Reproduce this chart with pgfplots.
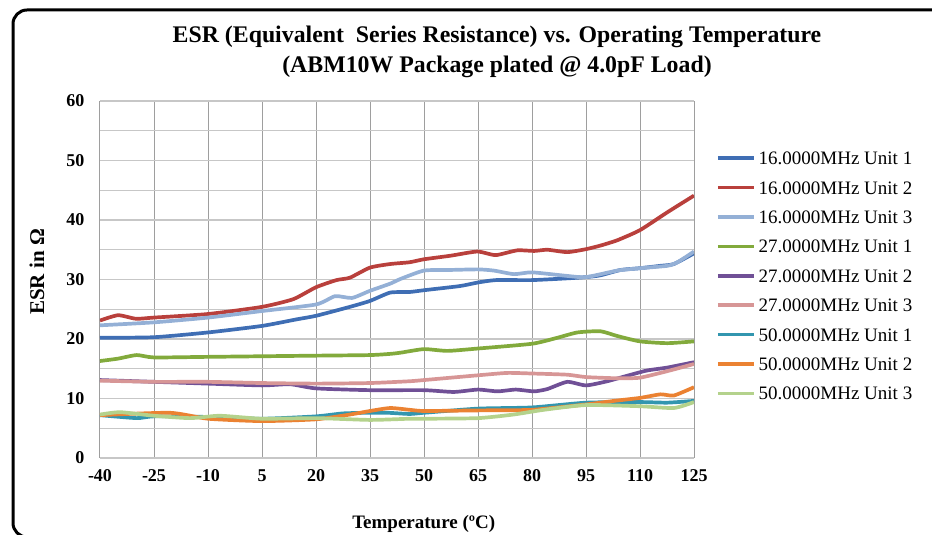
\documentclass[border=0pt]{standalone}
\usepackage{fontspec}
\setmainfont{Liberation Serif}
\usepackage{graphicx}
\usepackage{pgfplots}
\pgfplotsset{compat=1.18}
\usepackage{pgfplotstable}

\definecolor{cA}{RGB}{63,110,180}
\definecolor{cB}{RGB}{185,64,60}
\definecolor{cC}{RGB}{148,176,214}
\definecolor{cD}{RGB}{130,170,60}
\definecolor{cE}{RGB}{112,80,150}
\definecolor{cF}{RGB}{215,150,150}
\definecolor{cG}{RGB}{50,150,175}
\definecolor{cH}{RGB}{235,130,50}
\definecolor{cI}{RGB}{180,210,140}

\pgfplotstableread{
x y
-40 20.2
-25 20.3
-10 21.1
5 22.2
14.6 23.3
20 23.9
29.4 25.4
35 26.4
40.6 27.8
46 27.9
50 28.2
60 28.9
65 29.5
70 29.9
80 29.9
90 30.2
95 30.4
99 30.7
104.6 31.6
110 31.9
115.7 32.3
119.4 32.6
125 34.4
}\tA
\pgfplotstableread{
x y
-40 23.1
-35 24.0
-30 23.4
-25 23.6
-10 24.2
5 25.4
13.7 26.7
20 28.7
25.7 29.9
29.4 30.3
35 32.0
40.6 32.6
46 32.9
50 33.4
57.4 34.0
64.8 34.7
69.9 34.1
75.9 34.9
80.6 34.8
84.3 35.0
89.8 34.6
95 35.1
99 35.7
103.7 36.6
110 38.3
117.6 41.3
125 44.1
}\tB
\pgfplotstableread{
x y
-40 22.3
-25 22.8
-10 23.6
5 24.7
20 25.8
25.3 27.2
30 26.9
35 28.1
40.6 29.3
43.5 30.1
50 31.5
57 31.6
65 31.7
69.4 31.5
75 30.9
80 31.2
89.8 30.6
95 30.4
103.7 31.5
110 31.9
117.6 32.3
120.4 32.9
125 34.7
}\tC
\pgfplotstableread{
x y
-40 16.3
-35 16.7
-29.8 17.3
-25 16.9
-10 17.0
5 17.1
20 17.2
35 17.3
40.6 17.5
43.5 17.7
50 18.3
56.5 18.0
65 18.4
80 19.2
87 20.2
92.6 21.1
99 21.3
103.7 20.5
110 19.6
117.6 19.3
125 19.6
}\tD
\pgfplotstableread{
x y
-40 13.1
-25 12.8
-10 12.5
5 12.2
12.8 12.4
20 11.7
35 11.4
50 11.4
58.3 11.1
65 11.5
70.4 11.2
75.5 11.5
80.6 11.2
84.3 11.6
89.8 12.8
95 12.2
100.9 12.9
106.3 13.8
111.9 14.7
117.6 15.2
125 16.1
}\tE
\pgfplotstableread{
x y
-40 13.0
-25 12.8
-10 12.8
5 12.6
20 12.5
35 12.6
46 12.9
50 13.1
65 13.9
73.1 14.3
80 14.2
89.8 14.0
95 13.6
103.7 13.4
110 13.5
117.6 14.6
125 15.8
}\tF
\pgfplotstableread{
x y
-40 7.2
-29.8 6.7
-25 7.0
-10 6.9
5 6.6
20 7.0
27.6 7.5
35 7.6
40 7.6
46 7.4
50 7.6
65 8.3
80 8.5
95 9.3
110 9.4
117.6 9.3
125 9.6
}\tG
\pgfplotstableread{
x y
-40 7.2
-20.6 7.6
-10 6.6
5 6.2
20 6.5
29.4 7.3
35 7.9
40.6 8.4
46 8.1
50 7.9
65 8.0
80 8.1
95 9.0
102.8 9.6
110 10.1
115.7 10.7
119.4 10.5
125 11.9
}\tH
\pgfplotstableread{
x y
-40 7.3
-34.4 7.7
-25 7.1
-15 6.7
-6.7 7.1
5 6.6
20 6.7
35 6.4
46 6.6
50 6.6
65 6.7
74.8 7.3
83.3 8.1
95 8.9
110 8.7
119.4 8.4
125 9.4
}\tI

\begin{document}
\begin{tikzpicture}
\useasboundingbox (0,0) rectangle (932pt,535pt);
\clip (0,0) rectangle (932pt,535pt);
\draw[line width=3pt, rounded corners=14pt] (13pt,-2pt) rectangle (960pt,525pt);
\node[font=\fontsize{23.8}{30}\selectfont\bfseries, align=center] at (497pt,483pt)
  {ESR (Equivalent\ \ Series Resistance) vs. Operating Temperature\\(ABM10W Package plated @ 4.0pF Load)};
\begin{axis}[
  at={(100pt,77pt)}, anchor=south west,
  width=594pt, height=357pt, scale only axis,
  xmin=-40, xmax=125, ymin=0, ymax=60,
  xtick={-40,-25,...,125}, ytick={0,10,...,60},
  minor ytick={5,15,...,55},
  grid=both,
  x grid style={draw=black!38, line width=1pt},
  y grid style={draw=black!22, line width=1.3pt},
  minor grid style={draw=black!16, line width=1.1pt},
  axis line style={draw=none},
  major tick length=0pt, minor tick length=0pt,
  /pgf/number format/assume math mode=true,
  ticklabel style={font=\fontsize{18}{18}\selectfont\bfseries},
  xticklabel style={yshift=-8pt},
  yticklabel style={xshift=-12pt},
  xlabel={Temperature (ºC)},
  ylabel={ESR in Ω},
  xlabel style={font=\fontsize{19}{19}\selectfont\bfseries, at={(axis description cs:0.545,0)}, anchor=base, yshift=-71pt},
  ylabel style={font=\fontsize{21}{21}\selectfont\bfseries, at={(axis description cs:0,0.521)}, anchor=center, yshift=63pt},
  legend cell align=left,
  legend style={draw=none, fill=none, at={(1.037,0.8585)}, anchor=north west,
    font=\fontsize{19}{19}\selectfont, row sep=13.4pt, column sep=3pt, inner sep=0pt,
    nodes={inner sep=0pt, text height=13pt, text depth=3pt}},
  legend image code/.code={\draw[#1, line width=3.5pt] (0pt,1.5pt) -- (36pt,1.5pt);},
  every axis plot/.append style={line width=3.7pt, line join=round, smooth, tension=0.35, no markers},
]
\addplot[cA] table {\tA}; \addlegendentry{16.0000MHz Unit 1}
\addplot[cB] table {\tB}; \addlegendentry{16.0000MHz Unit 2}
\addplot[cC] table {\tC}; \addlegendentry{16.0000MHz Unit 3}
\addplot[cD] table {\tD}; \addlegendentry{27.0000MHz Unit 1}
\addplot[cE] table {\tE}; \addlegendentry{27.0000MHz Unit 2}
\addplot[cF] table {\tF}; \addlegendentry{27.0000MHz Unit 3}
\addplot[cG] table {\tG}; \addlegendentry{50.0000MHz Unit 1}
\addplot[cH] table {\tH}; \addlegendentry{50.0000MHz Unit 2}
\addplot[cI] table {\tI}; \addlegendentry{50.0000MHz Unit 3}
\end{axis}
\end{tikzpicture}
\end{document}
